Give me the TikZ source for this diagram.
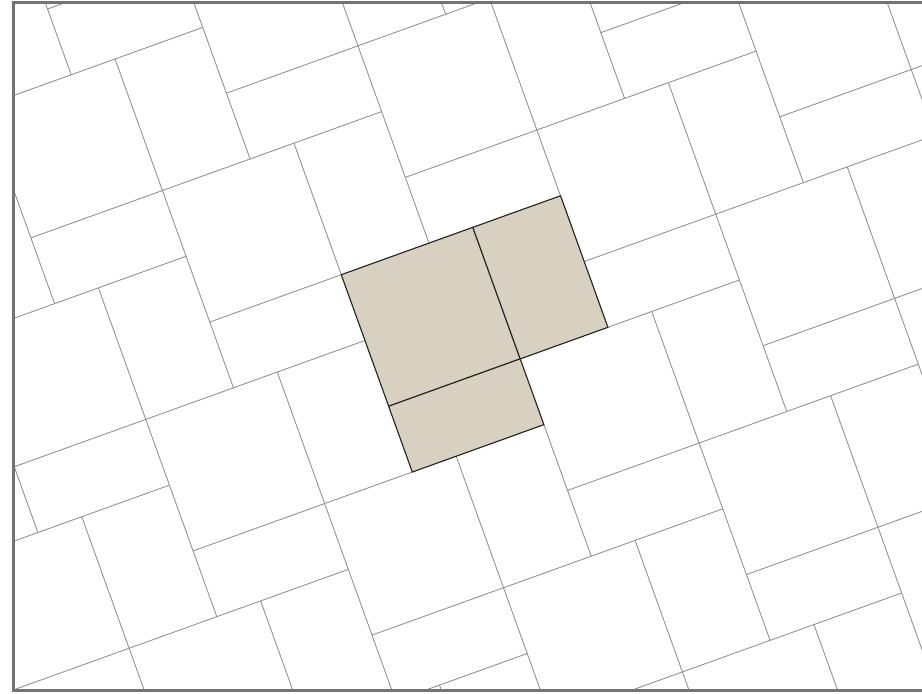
\documentclass[tikz,border=0pt]{standalone}
\usepackage{xcolor}
\usepackage{tikz}

\definecolor{stone}{RGB}{216,208,192}

\begin{document}
\begin{tikzpicture}[
    x=1pt, y=1pt,
    joint/.style={draw=black!42, line width=0.6pt},
    paver/.style={draw=black!85, line width=1.1pt, fill=stone},
    frame/.style={draw=black!55, line width=3pt},
  ]
  \useasboundingbox (0,0) rectangle (922,-694);
  \fill[white] (0,0) rectangle (922,-694);
  \begin{scope}
    \clip (13.5,-2.5) rectangle (925,-690.5);
    \begin{scope}[shift={(341.3,-274.7)}, rotate=19.8, x=23.3pt, y=23.3pt]
      % lattice of square + two strips
      \foreach \m in {-7,...,7}
        \foreach \n in {-5,...,5} {
          \pgfmathsetmacro{\ta}{6*\m+10*\n}
          \pgfmathsetmacro{\tb}{-6*\m+3*\n}
          \draw[joint] (\ta,\tb) rectangle ++(6,-6);
          \draw[joint] (\ta+6,\tb) rectangle ++(4,-6);
          \draw[joint] (\ta,\tb-6) rectangle ++(6,-3);
        }
      % highlighted unit
      \draw[paver] (0,0) rectangle (6,-6);
      \draw[paver] (6,0) rectangle (10,-6);
      \draw[paver] (0,-6) rectangle (6,-9);
    \end{scope}
  \end{scope}
  \draw[frame] (925,-2.5) -- (13.5,-2.5) -- (13.5,-690.5) -- (925,-690.5);
\end{tikzpicture}
\end{document}
